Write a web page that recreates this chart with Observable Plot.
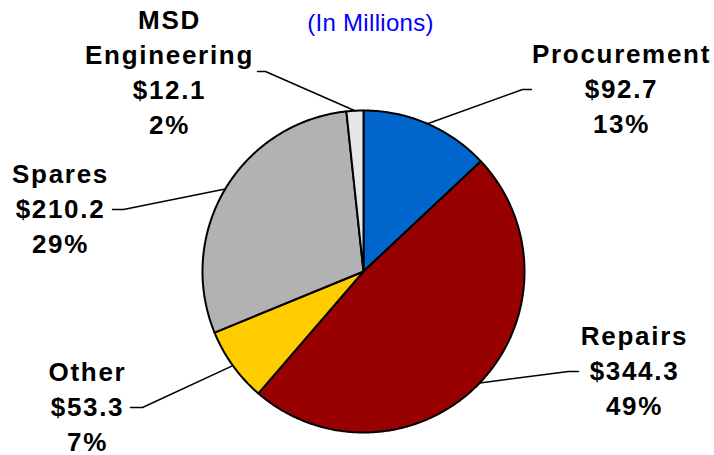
<!DOCTYPE html>
<html><head><meta charset="utf-8">
<script src="https://cdn.jsdelivr.net/npm/d3@7"></script>
<script src="https://cdn.jsdelivr.net/npm/@observablehq/plot@0.6"></script>
<style>
html,body{margin:0;padding:0;background:#fff;}
</style></head><body><div id="chart"></div>
<script>
// ---- data ----
const categories = ["Procurement", "Repairs", "Other", "Spares", "MSD Engineering"];
const amounts = [92.7, 344.3, 53.3, 210.2, 12.1];          // $ millions
const percents = [13, 49, 7, 29, 2];                         // as printed
const nameLines = [["Procurement"], ["Repairs"], ["Other"], ["Spares"], ["MSD", "Engineering"]];
const sliceColors = ["#0066CC", "#990000", "#FFCC00", "#B2B2B2", "#E6E6E6"];
const subtitle = "(In Millions)";

// ---- layout (pixels) ----
const W = 714, H = 455;
const pie = {cx: 363, cy: 271, r: 161};
const lineStep = 35;
const labelLayout = {
  "Procurement":     {x: 621, y: 62,  elbow: [522, 89],  end: [531, 89]},
  "Repairs":         {x: 634, y: 344, elbow: [568, 371], end: [578, 371]},
  "Other":           {x: 87,  y: 380, elbow: [142, 407], end: [130, 407]},
  "Spares":          {x: 60,  y: 182, elbow: [123, 209], end: [112, 209]},
  "MSD Engineering": {x: 169, y: 28,  elbow: [265, 71],  end: [257, 71]}
};
const font = "'Liberation Sans', Arial, Helvetica, sans-serif";

// ---- geometry from data ----
const arcs = d3.pie().sort(null).value(d => d)(amounts);
const pt = (a, r) => [pie.cx + r * Math.sin(a), pie.cy - r * Math.cos(a)];

const sliceMarks = categories.map((cat, i) => {
  const {startAngle: a0, endAngle: a1} = arcs[i];
  const n = Math.max(2, Math.ceil((a1 - a0) / (Math.PI / 360)));
  const rows = [{px: pie.cx, py: pie.cy}];
  for (let k = 0; k <= n; k++) {
    const [px, py] = pt(a0 + (a1 - a0) * k / n, pie.r);
    rows.push({px, py});
  }
  rows.push({px: pie.cx, py: pie.cy});
  return Plot.line(rows, {x: "px", y: "py", fill: sliceColors[i], stroke: "#000",
    strokeWidth: 2, strokeLinejoin: "round", curve: "linear"});
});

const leaderRows = [];
categories.forEach((cat, i) => {
  const mid = (arcs[i].startAngle + arcs[i].endAngle) / 2;
  const [ex, ey] = pt(mid, pie.r);
  const L = labelLayout[cat];
  leaderRows.push({cat, px: ex, py: ey}, {cat, px: L.elbow[0], py: L.elbow[1]}, {cat, px: L.end[0], py: L.end[1]});
});

const labelRows = [];
categories.forEach((cat, i) => {
  const lines = [...nameLines[i], "$" + amounts[i].toFixed(1), percents[i] + "%"];
  const L = labelLayout[cat];
  lines.forEach((t, k) => labelRows.push({t, px: L.x, py: L.y + k * lineStep}));
});

const chart = Plot.plot({
  width: W, height: H, margin: 0,
  x: {domain: [0, W], range: [0, W], axis: null},
  y: {domain: [0, H], range: [0, H], axis: null},
  style: {background: "#fff", letterSpacing: "1.7px"},
  marks: [
    ...sliceMarks,
    Plot.line(leaderRows, {x: "px", y: "py", z: "cat", stroke: "#000", strokeWidth: 1.5, curve: "linear"}),
    Plot.text(labelRows, {x: "px", y: "py", text: "t", textAnchor: "middle", lineAnchor: "bottom",
      fontSize: 26, fontWeight: "bold", fontFamily: font, fill: "#000"}),
    Plot.text([subtitle], {x: () => 370, y: () => 30, text: d => d, textAnchor: "middle", lineAnchor: "bottom",
      fontSize: 24, fontFamily: font, fill: "#0000FF"})
  ]
});
d3.select(chart).selectAll("text")
  .filter(function() { return this.textContent === subtitle; })
  .style("letter-spacing", "0.3px");
document.getElementById("chart").appendChild(chart);
</script></body></html>
